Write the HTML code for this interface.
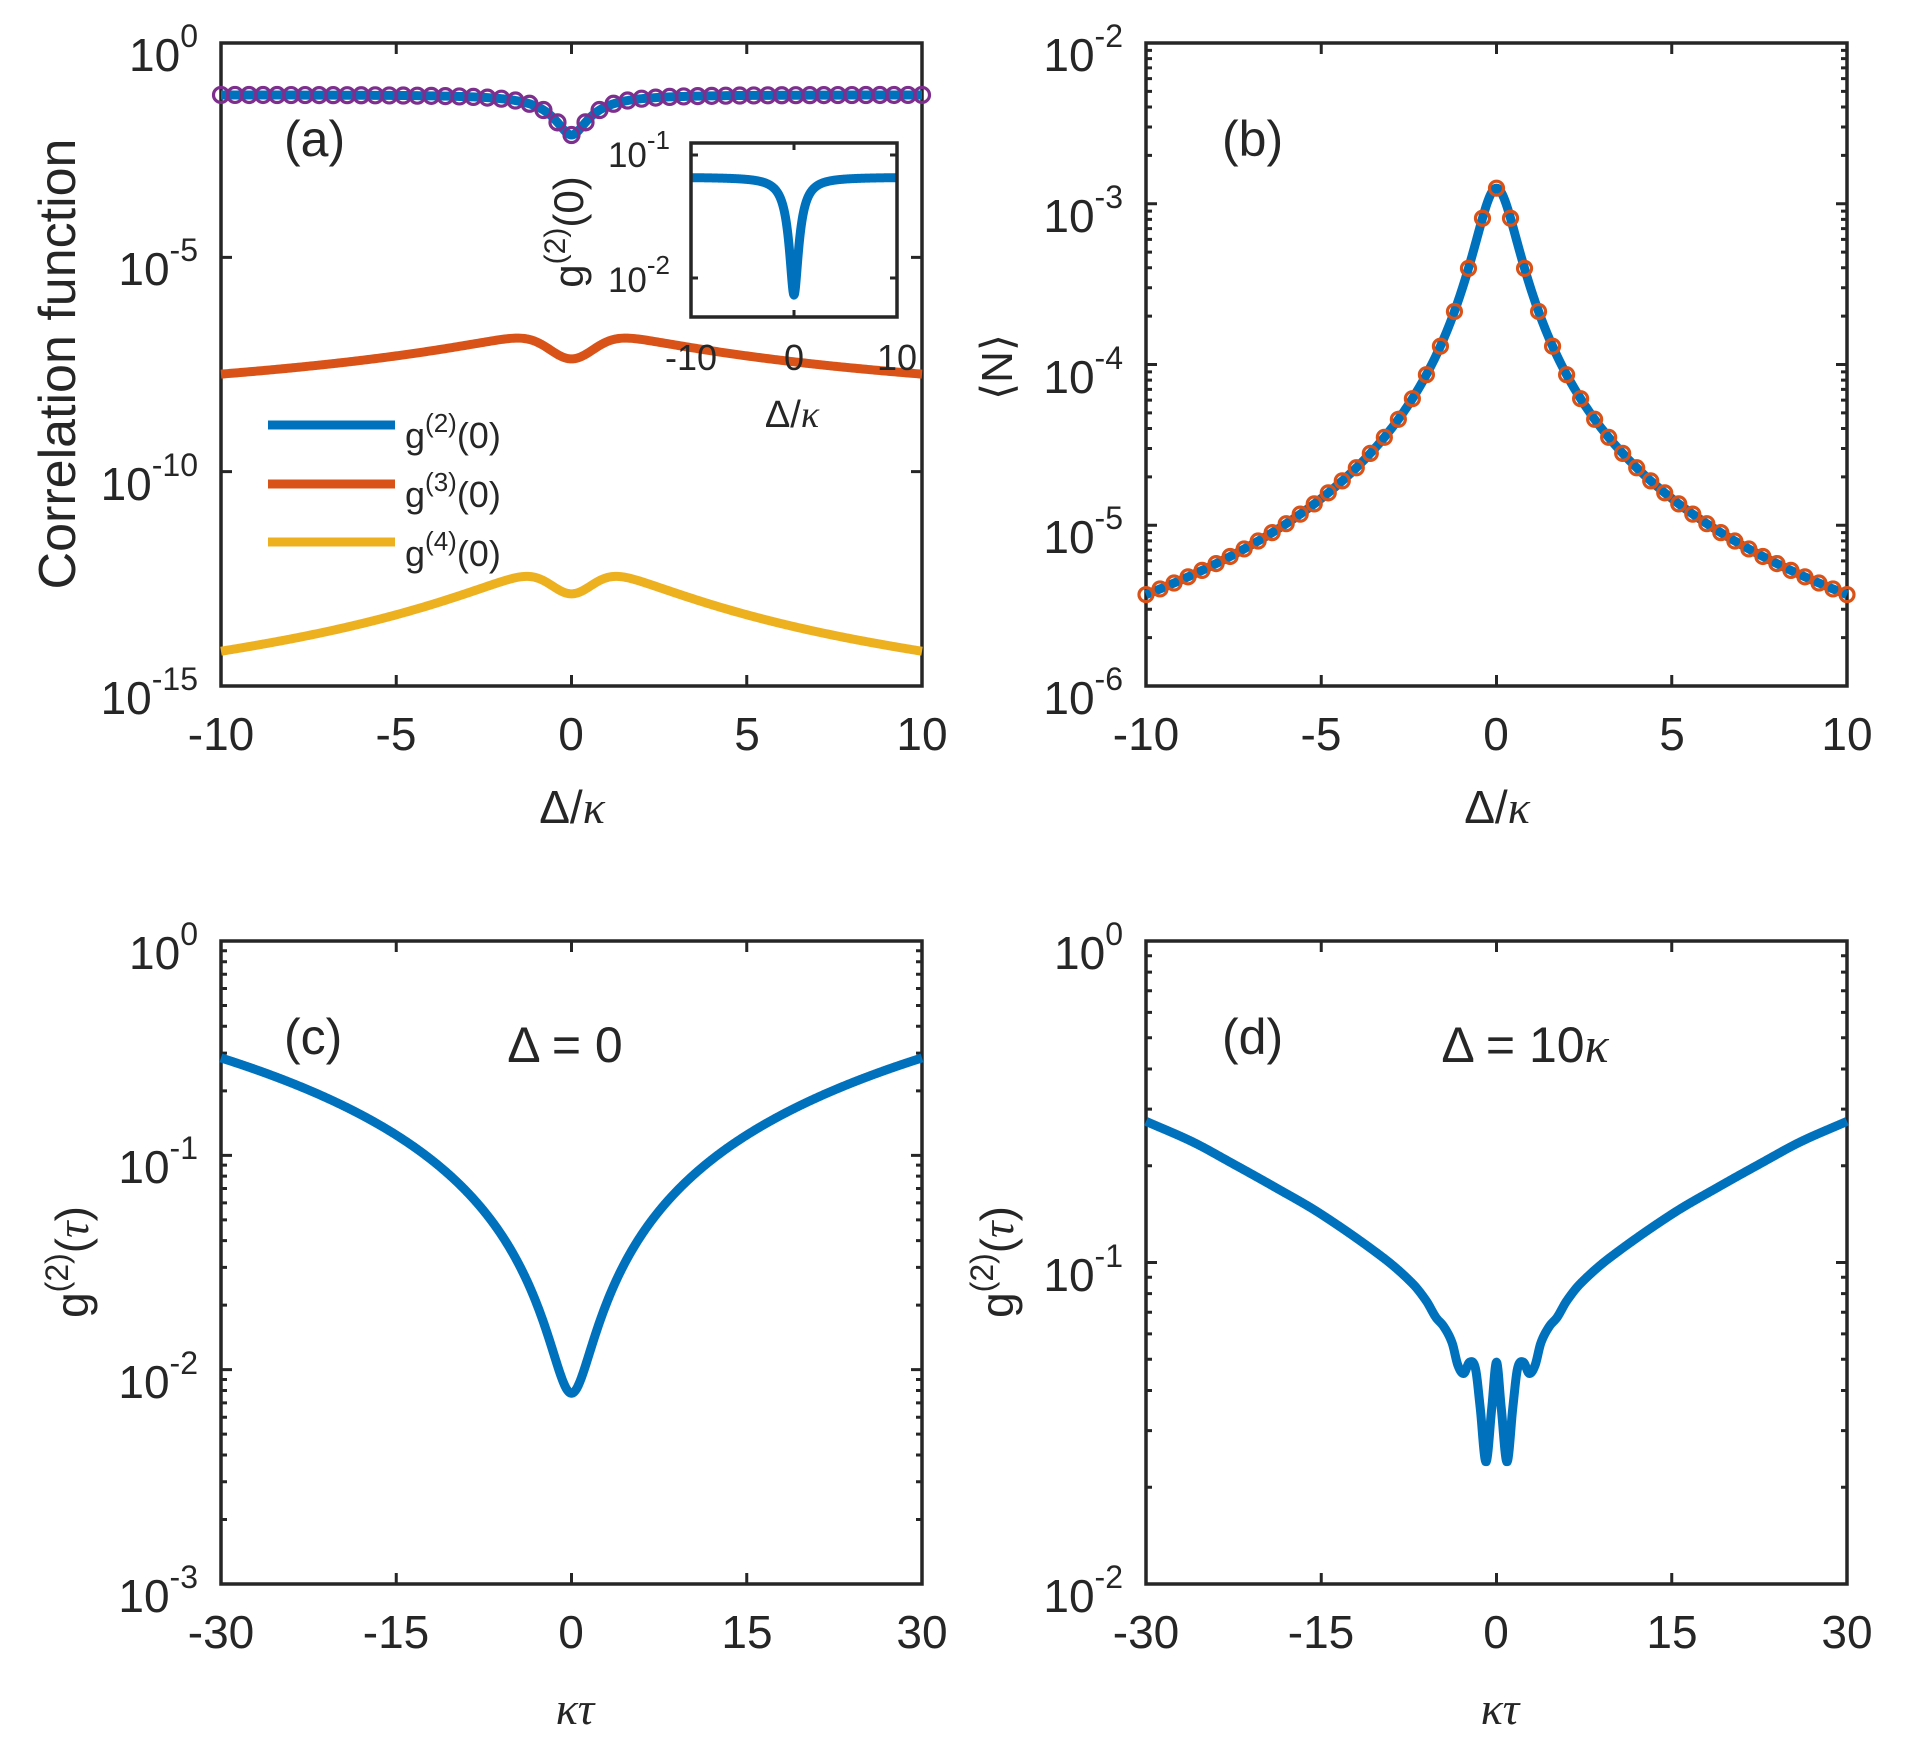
<!DOCTYPE html>
<html><head><meta charset="utf-8"><style>
html,body{margin:0;padding:0;background:#fff;}
svg{display:block;}
text{font-family:"Liberation Sans",Arial,sans-serif;fill:#262626;}
.it{font-family:"Liberation Serif",serif;font-style:italic;}
</style></head><body>
<svg id="s" xmlns="http://www.w3.org/2000/svg" width="1907" height="1759" viewBox="0 0 1907 1759">
<rect width="1907" height="1759" fill="#fff"/>
<g id="plots"></g>
<g id="txt" font-size="46">
<g text-anchor="middle">
<text x="221" y="750">-10</text><text x="396" y="750">-5</text><text x="571" y="750">0</text><text x="747" y="750">5</text><text x="922" y="750">10</text>
<text x="1146" y="750">-10</text><text x="1321" y="750">-5</text><text x="1496" y="750">0</text><text x="1672" y="750">5</text><text x="1847" y="750">10</text>
<text x="221" y="1648">-30</text><text x="396" y="1648">-15</text><text x="571" y="1648">0</text><text x="747" y="1648">15</text><text x="922" y="1648">30</text>
<text x="1146" y="1648">-30</text><text x="1321" y="1648">-15</text><text x="1496" y="1648">0</text><text x="1672" y="1648">15</text><text x="1847" y="1648">30</text>
</g>
<g text-anchor="end">
<text x="198" y="71">10<tspan dy="-24" font-size="32">0</tspan></text>
<text x="198" y="285">10<tspan dy="-24" font-size="32">-5</tspan></text>
<text x="198" y="500">10<tspan dy="-24" font-size="32">-10</tspan></text>
<text x="198" y="714">10<tspan dy="-24" font-size="32">-15</tspan></text>

<text x="1123" y="71">10<tspan dy="-24" font-size="32">-2</tspan></text>
<text x="1123" y="232">10<tspan dy="-24" font-size="32">-3</tspan></text>
<text x="1123" y="393">10<tspan dy="-24" font-size="32">-4</tspan></text>
<text x="1123" y="553">10<tspan dy="-24" font-size="32">-5</tspan></text>
<text x="1123" y="714">10<tspan dy="-24" font-size="32">-6</tspan></text>

<text x="198" y="969">10<tspan dy="-24" font-size="32">0</tspan></text>
<text x="198" y="1183">10<tspan dy="-24" font-size="32">-1</tspan></text>
<text x="198" y="1398">10<tspan dy="-24" font-size="32">-2</tspan></text>
<text x="198" y="1612">10<tspan dy="-24" font-size="32">-3</tspan></text>

<text x="1123" y="969">10<tspan dy="-24" font-size="32">0</tspan></text>
<text x="1123" y="1291">10<tspan dy="-24" font-size="32">-1</tspan></text>
<text x="1123" y="1612">10<tspan dy="-24" font-size="32">-2</tspan></text>

<text x="670" y="167" font-size="35">10<tspan dy="-18" font-size="26">-1</tspan></text>
<text x="670" y="292" font-size="35">10<tspan dy="-18" font-size="26">-2</tspan></text>
</g>
<g text-anchor="middle" font-size="36">
<text x="691" y="370">-10</text><text x="794" y="370">0</text><text x="897" y="370">10</text>
<text x="792" y="427" font-size="38">Δ/<tspan class="it">κ</tspan></text>
</g>
<text transform="translate(583,232) rotate(-90)" text-anchor="middle" font-size="42">g<tspan dy="-18" font-size="30">(2)</tspan><tspan dy="18">(0)</tspan></text>

<text x="572" y="823" text-anchor="middle">Δ/<tspan class="it">κ</tspan></text>
<text x="1497" y="823" text-anchor="middle">Δ/<tspan class="it">κ</tspan></text>
<text x="575" y="1724" text-anchor="middle" class="it">κτ</text>
<text x="1500" y="1724" text-anchor="middle" class="it">κτ</text>
<text transform="translate(75,364) rotate(-90)" text-anchor="middle" font-size="52">Correlation function</text>
<text transform="translate(1012,367) rotate(-90)" text-anchor="middle" font-family="DejaVu Sans, sans-serif" font-size="44">⟨N⟩</text>
<text transform="translate(88,1262) rotate(-90)" text-anchor="middle">g<tspan dy="-20" font-size="32">(2)</tspan><tspan dy="20">(</tspan><tspan class="it">τ</tspan>)</text>
<text transform="translate(1013,1262) rotate(-90)" text-anchor="middle">g<tspan dy="-20" font-size="32">(2)</tspan><tspan dy="20">(</tspan><tspan class="it">τ</tspan>)</text>

<g font-size="50" fill="#000">
<text x="284" y="156">(a)</text>
<text x="1222" y="156">(b)</text>
<text x="284" y="1054">(c)</text>
<text x="1222" y="1054">(d)</text>
<text x="565" y="1062" text-anchor="middle">Δ = 0</text>
<text x="1525" y="1062" text-anchor="middle">Δ = 10<tspan class="it">κ</tspan></text>
</g>

<g font-size="36">
<text x="405" y="448">g<tspan dy="-16" font-size="26">(2)</tspan><tspan dy="16">(0)</tspan></text>
<text x="405" y="507">g<tspan dy="-16" font-size="26">(3)</tspan><tspan dy="16">(0)</tspan></text>
<text x="405" y="566">g<tspan dy="-16" font-size="26">(4)</tspan><tspan dy="16">(0)</tspan></text>
</g>
</g>
</svg>
<script>
(function(){
var NS='http://www.w3.org/2000/svg';
var G=document.getElementById('plots');
function el(t,a,p){var e=document.createElementNS(NS,t);for(var k in a)e.setAttribute(k,a[k]);(p||G).appendChild(e);return e;}
var AX='#262626';
function box(x0,y0,x1,y1,xt,yt,ym,sw,ml,mn){
  sw=sw||3.5;ml=ml||11;mn=mn||6;
  var d='';
  xt.forEach(function(x){d+='M'+x+' '+y1+'v-'+ml+'M'+x+' '+y0+'v'+ml;});
  yt.forEach(function(y){d+='M'+x0+' '+y+'h'+ml+'M'+x1+' '+y+'h-'+ml;});
  (ym||[]).forEach(function(y){d+='M'+x0+' '+y+'h'+mn+'M'+x1+' '+y+'h-'+mn;});
  el('path',{d:d,stroke:AX,'stroke-width':sw-0.5,fill:'none'});
  el('rect',{x:x0,y:y0,width:x1-x0,height:y1-y0,fill:'none',stroke:AX,'stroke-width':sw});
}
function minors(lo,hi,ym){var r=[];for(var d=lo;d<hi;d++)for(var k=2;k<=9;k++)r.push(ym(d+Math.log10(k)));return r;}
function line(fx,fy,f,a,b,n,col,w){var d='';for(var i=0;i<=n;i++){var v=a+(b-a)*i/n;d+=(i?'L':'M')+fx(v).toFixed(2)+' '+fy(f(v)).toFixed(2);}
  el('path',{d:d,stroke:col,'stroke-width':w,fill:'none','stroke-linejoin':'round','stroke-linecap':'butt'});}
function interp(P,x){x=Math.abs(x);var n=P.length;if(x>=P[n-1][0])return P[n-1][1];
  var i=0;while(P[i+1][0]<x)i++;
  var p0=P[Math.max(i-1,0)],p1=P[i],p2=P[i+1],p3=P[Math.min(i+2,n-1)];
  var h=p2[0]-p1[0],t=(x-p1[0])/h;
  var m1=(i==0)?0:(p2[1]-p0[1])/(p2[0]-p0[0])*h;
  var m2=(p3[1]-p1[1])/(p3[0]-p1[0])*h;
  var t2=t*t,t3=t2*t;
  return (2*t3-3*t2+1)*p1[1]+(t3-2*t2+t)*m1+(-2*t3+3*t2)*p2[1]+(t3-t2)*m2;}
var BLUE='#0072BD',OR='#D95319',YE='#EDB120',PU='#7E2F8E';
var LW=9;

var ax=function(v){return 221+(v+10)/20*701;}, ay=function(l){return 43-l/15*643;};
box(221,43,922,686,[-10,-5,0,5,10].map(ax),[0,-5,-10,-15].map(ay),[]);
function g2(v){return 0.062*(1-0.885/(1+v*v/1.1));}
function L3(v){return -6.74-0.8*Math.log10(1+v*v/6.25)-0.63*Math.exp(-v*v/0.8);}
function L4(v){return -12.22-1.6*Math.log10(1+v*v/6.25)-0.63*Math.exp(-v*v/0.7);}
line(ax,ay,L3,-10,10,400,OR,LW);
line(ax,ay,L4,-10,10,400,YE,LW);
line(ax,ay,function(v){return Math.log10(g2(v));},-10,10,400,BLUE,LW);
for(var i=0;i<=50;i++){var v=-10+i*0.4;el('circle',{cx:ax(v),cy:ay(Math.log10(g2(v))),r:7.5,fill:'none',stroke:PU,'stroke-width':3.2});}
el('path',{d:'M268 425H395',stroke:BLUE,'stroke-width':LW});
el('path',{d:'M268 484H395',stroke:OR,'stroke-width':LW});
el('path',{d:'M268 542H395',stroke:YE,'stroke-width':LW});
var ix=function(v){return 691+(v+10)/20*206;}, iy=function(l){return 155+(-1-l)*123;};
el('rect',{x:691,y:143,width:206,height:174,fill:'#fff',stroke:'none'});
line(ix,iy,function(v){return Math.log10(0.066*(1-0.89/(1+v*v/1.0)));},-10,10,400,BLUE,9);
box(691,143,897,317,[ix(0)],[iy(-1),iy(-2)],[],3.5,7,4);

var bx=function(v){return 1146+(v+10)/20*701;}, by=function(l){return 43+(-2-l)/4*643;};
box(1146,43,1847,686,[-10,-5,0,5,10].map(bx),[-2,-3,-4,-5,-6].map(by),minors(-6,-2,by));
function N(v){return Math.log10(1.25e-3/(1+v*v/0.297));}
line(bx,by,N,-10,10,800,BLUE,LW);
for(var i=0;i<=50;i++){var v=-10+i*0.4;el('circle',{cx:bx(v),cy:by(N(v)),r:7,fill:'none',stroke:OR,'stroke-width':3.2});}

var cx=function(t){return 221+(t+30)/60*701;}, cy=function(l){return 941-l/3*643;};
box(221,941,922,1584,[-30,-15,0,15,30].map(cx),[0,-1,-2,-3].map(cy),minors(-3,0,cy));
line(cx,cy,function(t){return -2.11+0.601*Math.log10(1+t*t/2.25);},-30,30,1200,BLUE,LW);

var dx=function(t){return 1146+(t+30)/60*701;}, dy=function(l){return 941-l/2*643;};
box(1146,941,1847,1584,[-30,-15,0,15,30].map(dx),[0,-1,-2].map(dy),minors(-2,0,dy));
var PD=[[0,-1.31],[0.4,-1.45],[0.9,-1.62],[1.4,-1.45],[1.8,-1.33],[2.3,-1.31],[2.8,-1.345],[3.3,-1.32],[3.8,-1.25],[4.5,-1.2],[5.2,-1.17],[6,-1.12],[7.2,-1.065],[9.7,-0.985],[15,-0.85],[19,-0.765],[22.7,-0.69],[26,-0.625],[30,-0.561]];
line(dx,dy,function(t){return interp(PD,t);},-30,30,1500,BLUE,LW);
})();
</script>
</body></html>
